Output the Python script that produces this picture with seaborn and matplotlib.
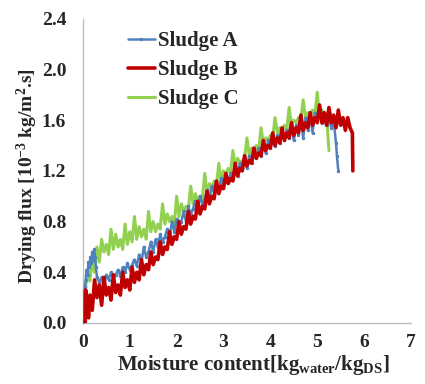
import matplotlib
matplotlib.use("Agg")
import matplotlib.pyplot as plt
import seaborn as sns
import pandas as pd
from matplotlib.lines import Line2D

# Sludge A (blue, small markers)
moist_a = [0.00, 0.01, 0.02, 0.04, 0.06, 0.08, 0.10, 0.12, 0.14, 0.16,
           0.18, 0.20, 0.22, 0.24, 0.26, 0.28, 0.30, 0.35, 0.40, 0.45,
           0.50, 0.55, 0.60, 0.65, 0.70, 0.75, 0.80, 0.85, 0.90, 0.95,
           1.00, 1.05, 1.10, 1.15, 1.20, 1.25, 1.30, 1.35, 1.40, 1.45,
           1.50, 1.55, 1.60, 1.65, 1.70, 1.75, 1.80, 1.85, 1.90, 1.95,
           2.00, 2.05, 2.10, 2.15, 2.20, 2.25, 2.30, 2.35, 2.40, 2.45,
           2.50, 2.55, 2.60, 2.65, 2.70, 2.75, 2.80, 2.85, 2.90, 2.95,
           3.00, 3.05, 3.10, 3.15, 3.20, 3.25, 3.30, 3.35, 3.40, 3.45,
           3.50, 3.55, 3.60, 3.65, 3.70, 3.75, 3.80, 3.85, 3.90, 3.95,
           4.00, 4.05, 4.10, 4.15, 4.20, 4.25, 4.30, 4.35, 4.40, 4.45,
           4.50, 4.55, 4.60, 4.65, 4.70, 4.75, 4.80, 4.85, 4.90, 4.95,
           5.00, 5.05, 5.10, 5.15, 5.20, 5.25, 5.30, 5.35,
           5.40, 5.42, 5.45]
flux_a = [0.00, 0.12, 0.20, 0.28, 0.34, 0.42, 0.38, 0.48, 0.44, 0.52,
          0.47, 0.56, 0.50, 0.58, 0.52, 0.44, 0.36, 0.32, 0.36, 0.30,
          0.38, 0.34, 0.40, 0.35, 0.38, 0.42, 0.37, 0.44, 0.40, 0.47,
          0.42, 0.46, 0.50, 0.45, 0.54, 0.48, 0.60, 0.52, 0.56, 0.64,
          0.56, 0.66, 0.60, 0.70, 0.64, 0.68, 0.74, 0.68, 0.80, 0.72,
          0.82, 0.76, 0.80, 0.88, 0.80, 0.92, 0.86, 0.90, 0.96, 0.88,
          1.00, 0.94, 0.98, 1.05, 0.98, 1.08, 1.02, 1.10, 1.06, 1.14,
          1.08, 1.16, 1.12, 1.18, 1.14, 1.24, 1.16, 1.26, 1.22, 1.28,
          1.22, 1.32, 1.26, 1.34, 1.30, 1.38, 1.32, 1.40, 1.34, 1.44,
          1.38, 1.44, 1.40, 1.48, 1.42, 1.50, 1.44, 1.52, 1.46, 1.54,
          1.44, 1.56, 1.48, 1.60, 1.46, 1.62, 1.52, 1.64, 1.50, 1.66,
          1.60, 1.66, 1.58, 1.64, 1.56, 1.62, 1.54, 1.60,
          1.42, 1.32, 1.20]

# Sludge B (red)
moist_b = [0.05, 0.06, 0.08, 0.10, 0.12, 0.15, 0.20, 0.25, 0.30, 0.35,
           0.40, 0.45, 0.50, 0.55, 0.60, 0.65, 0.70, 0.75, 0.80, 0.85,
           0.90, 0.95, 1.00, 1.05, 1.10, 1.15, 1.20, 1.25, 1.30, 1.35,
           1.40, 1.45, 1.50, 1.55, 1.60, 1.65, 1.70, 1.75, 1.80, 1.85,
           1.90, 1.95, 2.00, 2.05, 2.10, 2.15, 2.20, 2.25, 2.30, 2.35,
           2.40, 2.45, 2.50, 2.55, 2.60, 2.65, 2.70, 2.75, 2.80, 2.85,
           2.90, 2.95, 3.00, 3.05, 3.10, 3.15, 3.20, 3.25, 3.30, 3.35,
           3.40, 3.45, 3.50, 3.55, 3.60, 3.65, 3.70, 3.75, 3.80, 3.85,
           3.90, 3.95, 4.00, 4.05, 4.10, 4.15, 4.20, 4.25, 4.30, 4.35,
           4.40, 4.45, 4.50, 4.55, 4.60, 4.65, 4.70, 4.75, 4.80, 4.85,
           4.90, 4.95, 5.00, 5.05, 5.10, 5.15, 5.20, 5.25, 5.30, 5.35,
           5.40, 5.45, 5.50, 5.55, 5.60, 5.65, 5.70, 5.75,
           5.76]
flux_b = [0.00, 0.26, 0.08, 0.20, 0.04, 0.22, 0.10, 0.34, 0.20, 0.30,
          0.14, 0.36, 0.22, 0.28, 0.18, 0.38, 0.24, 0.30, 0.22, 0.40,
          0.28, 0.34, 0.26, 0.44, 0.32, 0.40, 0.34, 0.50, 0.38, 0.46,
          0.42, 0.56, 0.46, 0.52, 0.50, 0.64, 0.54, 0.60, 0.58, 0.72,
          0.62, 0.68, 0.66, 0.80, 0.70, 0.76, 0.74, 0.88, 0.78, 0.84,
          0.82, 0.96, 0.86, 0.92, 0.90, 1.04, 0.94, 1.00, 0.98, 1.12,
          1.02, 1.08, 1.06, 1.18, 1.10, 1.14, 1.12, 1.26, 1.16, 1.22,
          1.20, 1.32, 1.24, 1.28, 1.26, 1.38, 1.30, 1.34, 1.32, 1.44,
          1.36, 1.40, 1.38, 1.50, 1.40, 1.46, 1.42, 1.54, 1.44, 1.50,
          1.46, 1.58, 1.48, 1.54, 1.50, 1.64, 1.52, 1.58, 1.54, 1.66,
          1.56, 1.62, 1.58, 1.72, 1.58, 1.66, 1.56, 1.70, 1.58, 1.64,
          1.54, 1.68, 1.56, 1.62, 1.52, 1.62, 1.54, 1.50,
          1.20]

# Sludge C (green)
moist_c = [0.00, 0.05, 0.10, 0.15, 0.20, 0.25, 0.30, 0.35, 0.40, 0.45,
           0.50, 0.55, 0.60, 0.65, 0.70, 0.75, 0.80, 0.85, 0.90, 0.95,
           1.00, 1.05, 1.10, 1.15, 1.20, 1.25, 1.30, 1.35, 1.40, 1.45,
           1.50, 1.55, 1.60, 1.65, 1.70, 1.75, 1.80, 1.85, 1.90, 1.95,
           2.00, 2.05, 2.10, 2.15, 2.20, 2.25, 2.30, 2.35, 2.40, 2.45,
           2.50, 2.55, 2.60, 2.65, 2.70, 2.75, 2.80, 2.85, 2.90, 2.95,
           3.00, 3.05, 3.10, 3.15, 3.20, 3.25, 3.30, 3.35, 3.40, 3.45,
           3.50, 3.55, 3.60, 3.65, 3.70, 3.75, 3.80, 3.85, 3.90, 3.95,
           4.00, 4.05, 4.10, 4.15, 4.20, 4.25, 4.30, 4.35, 4.40, 4.45,
           4.50, 4.55, 4.60, 4.65, 4.70, 4.75, 4.80, 4.85, 4.90, 4.95,
           5.00, 5.05, 5.10, 5.15, 5.20, 5.25]
flux_c = [0.02, 0.25, 0.42, 0.33, 0.50, 0.40, 0.60, 0.48, 0.66, 0.56,
          0.62, 0.54, 0.74, 0.58, 0.70, 0.60, 0.66, 0.58, 0.78, 0.62,
          0.72, 0.64, 0.84, 0.66, 0.76, 0.68, 0.74, 0.66, 0.88, 0.72,
          0.80, 0.72, 0.78, 0.74, 0.94, 0.78, 0.86, 0.80, 0.84, 0.78,
          1.00, 0.84, 0.94, 0.88, 0.92, 0.90, 1.08, 0.94, 1.02, 0.96,
          1.00, 0.98, 1.18, 1.02, 1.10, 1.06, 1.12, 1.08, 1.26, 1.12,
          1.20, 1.16, 1.22, 1.18, 1.36, 1.24, 1.30, 1.26, 1.28, 1.30,
          1.46, 1.32, 1.38, 1.34, 1.40, 1.36, 1.54, 1.42, 1.46, 1.44,
          1.48, 1.46, 1.62, 1.50, 1.54, 1.52, 1.56, 1.52, 1.70, 1.56,
          1.60, 1.58, 1.62, 1.60, 1.76, 1.62, 1.66, 1.64, 1.68, 1.64,
          1.82, 1.62, 1.68, 1.58, 1.64, 1.36]

labels = ["Sludge A", "Sludge B", "Sludge C"]
colors = ["#4f81bd", "#c00000", "#92d050"]
yticks = [0.0, 0.4, 0.8, 1.2, 1.6, 2.0, 2.4]

sns.set_style("white")
plt.rcParams["font.family"] = ["Liberation Serif", "DejaVu Serif"]
plt.rcParams["font.weight"] = "bold"
plt.rcParams["mathtext.fontset"] = "custom"
plt.rcParams["mathtext.rm"] = "Liberation Serif:bold"
plt.rcParams["mathtext.bf"] = "Liberation Serif:bold"
plt.rcParams["mathtext.it"] = "Liberation Serif:bold"

fig = plt.figure(figsize=(4.25, 3.84), dpi=100)
ax = fig.add_axes([0.195, 0.159, 0.772, 0.792])

df_a = pd.DataFrame({"moisture": moist_a, "flux": flux_a})
df_b = pd.DataFrame({"moisture": moist_b, "flux": flux_b})
df_c = pd.DataFrame({"moisture": moist_c, "flux": flux_c})

sns.lineplot(data=df_a, x="moisture", y="flux", ax=ax, color=colors[0], lw=1.8,
             marker="o", markersize=2.5, markeredgewidth=0, sort=False, estimator=None, zorder=3)
sns.lineplot(data=df_c, x="moisture", y="flux", ax=ax, color=colors[2], lw=2.2,
             sort=False, estimator=None, zorder=2)
sns.lineplot(data=df_b, x="moisture", y="flux", ax=ax, color=colors[1], lw=2.6,
             sort=False, estimator=None, zorder=4)

ax.set_xlim(0, 7)
ax.set_ylim(0, 2.4)
ax.set_xticks(range(0, 8))
ax.set_yticks(yticks)
ax.set_yticklabels([f"{v:.1f}" for v in yticks])

for s in ["top", "right"]:
    ax.spines[s].set_visible(False)
for s in ["left", "bottom"]:
    ax.spines[s].set_color("#bfbfbf")
    ax.spines[s].set_linewidth(1.0)
ax.tick_params(axis="both", which="major", direction="out", length=5, width=1,
               color="#bfbfbf", labelsize=14)
ax.tick_params(axis="y", pad=7)
ax.tick_params(axis="x", pad=3)
for t in ax.get_xticklabels() + ax.get_yticklabels():
    t.set_fontweight("bold")

ax.set_xlabel(r"Moisture content[kg$_{\mathrm{water}}$/kg$_{\mathrm{DS}}$]",
              fontsize=15, fontweight="bold")
ax.xaxis.set_label_coords(0.52, -0.098)
ax.set_ylabel(r"Drying flux [10$^{\mathrm{-3}}$ kg/m$^{\mathrm{2}}$.s]",
              fontsize=14, fontweight="bold")
ax.yaxis.set_label_coords(-0.13, 0.484)

handles = [Line2D([], [], color=colors[0], lw=1.8, marker="o", markersize=2.5, markeredgewidth=0),
           Line2D([], [], color=colors[1], lw=2.6),
           Line2D([], [], color=colors[2], lw=2.2)]
leg = ax.legend(handles, labels, loc="upper left", bbox_to_anchor=(0.137, 0.96), frameon=False,
                borderaxespad=0, borderpad=0, handlelength=1.3, handletextpad=0.15,
                labelspacing=0.44,
                prop={"family": "Liberation Serif", "weight": "bold", "size": 15})

fig.savefig("out.png", dpi=100)
